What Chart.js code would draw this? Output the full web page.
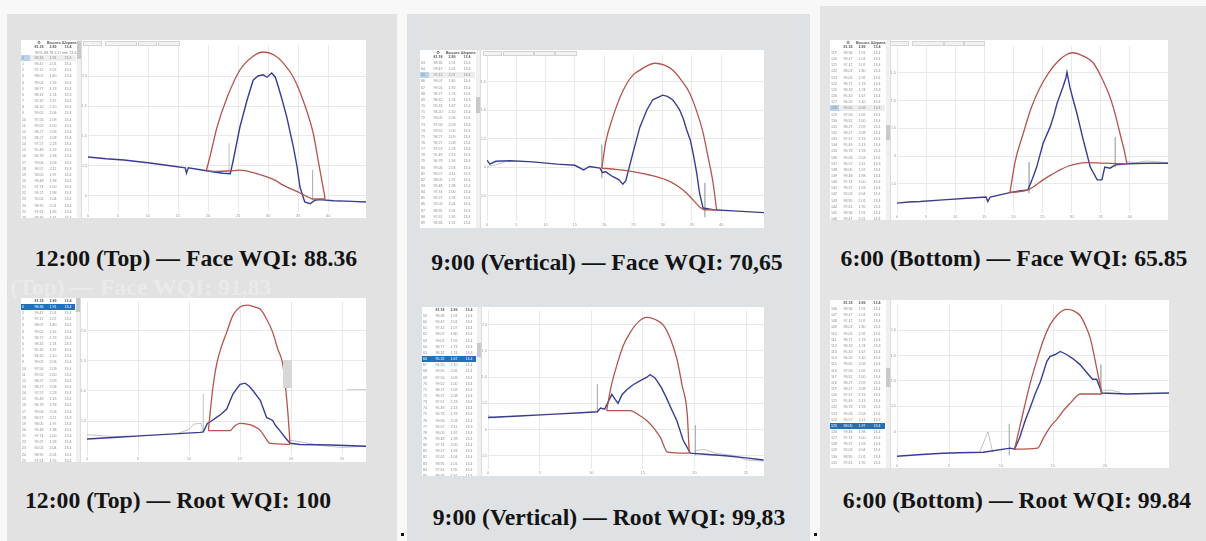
<!DOCTYPE html>
<html>
<head>
<meta charset="utf-8">
<script src="https://cdn.jsdelivr.net/npm/chart.js@4.4.1/dist/chart.umd.min.js"></script>
<style>
  body { margin: 0; width: 1206px; height: 541px; position: relative; overflow: hidden; background: #f8f8f8; font-family: "Liberation Sans", Arial, sans-serif; }
  .col { position: absolute; overflow: hidden; }
  .tbl { position: absolute; background: #fff; border-right: 1px solid #ddd; overflow: hidden; filter: blur(0.35px); }
  .tbl div { position: absolute; font-size: 3.6px; line-height: 4px; color: #8a8a8a; white-space: nowrap; }
  .cap { position: absolute; font: bold 23.7px "Liberation Serif", "Times New Roman", serif; line-height: 24px; color: #141414; white-space: nowrap; transform: translateX(-50%); }
  .tab { position: absolute; height: 3px; border: 1px solid #d4d4d4; background: #f2f2f2; }
  canvas { position: absolute; }
</style>
</head>
<body>
<script>
// ---- data (x in axis units, y in axis units) ----

// 12:00 (Top) - Face
const faceTopBlue = [[0,0.65],[3,0.62],[6,0.6],[10.3,0.55],[14,0.5],[16.2,0.47],[16.4,0.38],[16.7,0.47],[19.2,0.43],[21,0.4],[22.5,0.38],[23.7,0.37],[24.2,0.6],[25.3,1.15],[26.5,1.6],[27.5,1.93],[28.3,2.0],[29.2,2.02],[29.8,1.98],[30.6,2.05],[31.2,1.98],[31.7,1.82],[32.4,1.58],[33.1,1.32],[34.2,0.82],[34.8,0.5],[35.3,0.15],[36.1,-0.1],[37,-0.13],[37.8,-0.07],[38.5,-0.06],[40.9,-0.08],[44,-0.09],[46.3,-0.1]];
const faceTopRedUp = [[19.7,0.42],[20.3,0.65],[21.5,1.15],[23.2,1.65],[25.3,2.1],[27.5,2.33],[29.2,2.4],[31,2.35],[32.5,2.22],[34.2,1.98],[35.8,1.6],[37.5,1.05],[38.5,0.5],[39.5,-0.05]];
const faceTopRedLow = [[19.7,0.42],[21.5,0.41],[23.7,0.42],[25.3,0.43],[27.5,0.39],[29.8,0.32],[31.2,0.26],[32.5,0.18],[34,0.11],[35.3,0.05],[36.5,-0.01],[37.5,-0.05],[39.5,-0.05]];
const faceTopGray = [[23.5,0.37],[23.5,0.88],null,[37.4,0.43],[37.4,-0.07]];

// 12:00 (Top) - Root
const rootTopBlue = [[0,0.2],[3,0.23],[6,0.26],[9,0.29],[11.1,0.31],[11.4,0.32],[11.8,0.46],[12.2,0.5],[12.7,0.56],[13.2,0.62],[13.7,0.7],[14.3,0.95],[15,1.11],[15.5,1.13],[15.9,1.08],[16.3,1.0],[17,0.84],[17.3,0.7],[17.6,0.56],[18.2,0.51],[18.5,0.42],[18.9,0.34],[19.4,0.23],[19.9,0.13],[20.9,0.11],[24,0.1],[27.4,0.08]];
const rootTopRedUp = [[11.9,0.34],[12.3,1.0],[12.7,1.44],[13.2,1.75],[13.7,1.98],[14.3,2.26],[15,2.4],[15.7,2.43],[16.4,2.4],[17,2.36],[17.6,2.2],[18.2,1.98],[18.7,1.7],[19.2,1.44],[19.5,1.0],[19.7,0.62],[19.9,0.13]];
const rootTopRedLow = [[11.9,0.34],[14.0,0.34],[14.5,0.42],[15,0.46],[15.7,0.45],[16.3,0.42],[17,0.34],[17.5,0.22],[17.9,0.13],[19.9,0.11]];
const rootTopGray = [[0,0.27],[1,0.26],[2.5,0.24],[4,0.25],null,[9,0.3],[10,0.36],[10.5,0.45],[11.2,0.46],[11.4,0.32],null,[11.4,0.31],[11.4,0.95],null,[19.9,0.18],[21,0.15],[23,0.09],[25,0.06],[27.4,0.08]];

// 9:00 (Vertical) - Face
const faceVertBlue = [[0,0.12],[0.5,0.05],[1.5,0.1],[4,0.11],[7.8,0.09],[12,0.05],[15,0.03],[16.5,-0.05],[17.5,0.01],[19.3,-0.02],[19.7,-0.1],[20.2,-0.08],[21.5,-0.17],[22.5,-0.22],[23.2,-0.3],[23.7,-0.24],[24.9,0.24],[26.1,0.7],[27.3,1.0],[28.3,1.18],[29.2,1.22],[30,1.26],[30.8,1.24],[31.7,1.18],[32.4,1.08],[32.9,1.0],[33.5,0.85],[34.1,0.65],[34.7,0.48],[35.2,0.24],[35.8,-0.1],[36.3,-0.46],[36.9,-0.72],[38.6,-0.75],[42,-0.77],[47.3,-0.8]];
const faceVertRedUp = [[19.6,-0.02],[20.3,0.45],[21.5,0.88],[22.7,1.22],[23.9,1.47],[25,1.62],[26.1,1.7],[27.4,1.78],[28.7,1.82],[30.2,1.79],[31.7,1.7],[33.2,1.52],[34.6,1.3],[35.8,0.98],[36.9,0.6],[37.8,0.15],[38.6,-0.28],[39.2,-0.75]];
const faceVertRedLow = [[19.6,-0.02],[22,-0.04],[24.9,-0.08],[27.8,-0.14],[30.7,-0.23],[32.5,-0.33],[34.1,-0.46],[35.3,-0.59],[36.3,-0.7],[37.2,-0.75],[39.2,-0.75]];
const faceVertGray = [[0,-0.02],[0.5,0.04],[1,0.02],[2,0.06],[3,0.08],null,[19.6,0.39],[19.6,-0.19],null,[37.2,-0.28],[37.2,-0.88]];

// 9:00 (Vertical) - Root
const rootVertBlue = [[0,0.23],[3,0.26],[6,0.29],[9,0.32],[10.6,0.34],[10.9,0.41],[11.3,0.39],[11.7,0.55],[12,0.67],[12.3,0.58],[12.6,0.5],[13,0.67],[13.5,0.77],[14.1,0.86],[14.8,0.94],[15.4,1.0],[15.7,1.05],[16.2,0.98],[16.8,0.8],[17.3,0.6],[17.8,0.38],[18.3,0.17],[18.9,-0.2],[19.6,-0.45],[21,-0.47],[23,-0.5],[25,-0.54],[26.7,-0.58]];
const rootVertRedUp = [[11.5,0.36],[11.9,0.8],[12.5,1.24],[13.1,1.6],[13.8,1.86],[14.6,2.06],[15.4,2.14],[16.2,2.1],[17,1.99],[17.7,1.72],[18.3,1.35],[18.8,0.85],[19.3,0.3],[19.5,-0.45]];
const rootVertRedLow = [[11.5,0.36],[13.8,0.36],[14.6,0.28],[15.4,0.17],[16.1,0.02],[16.7,-0.15],[17.4,-0.43],[19.5,-0.45]];
const rootVertGray = [[0,0.27],[0.6,0.22],[1.5,0.25],null,[10.6,0.86],[10.6,0.32],null,[20.1,0.08],[20.1,-0.49],null,[20,-0.4],[21,-0.38],[22,-0.45],[24,-0.5],[25,-0.58],[26.7,-0.6]];

// 6:00 (Bottom) - Face
const faceBotBlue = [[0,-0.85],[2,-0.83],[4,-0.82],[7.9,-0.79],[12,-0.76],[15.3,-0.74],[15.6,-0.82],[16,-0.74],[19.4,-0.66],[21,-0.63],[22.5,-0.61],[23.3,-0.4],[24,-0.2],[25.1,0.23],[26.3,0.52],[27,0.75],[27.5,0.95],[28.5,1.24],[29,1.4],[29.2,1.51],[29.7,1.24],[30.3,1.0],[30.9,0.77],[32,0.29],[32.6,0.05],[33.2,-0.2],[34.4,-0.43],[35.2,-0.43],[35.7,-0.2],[36.6,-0.22],[37.5,-0.16],[39.5,-0.14],[43,-0.13],[46.6,-0.13]];
const faceBotRedUp = [[19.4,-0.66],[20.3,-0.1],[21.7,0.41],[23.1,0.88],[24.6,1.24],[26,1.49],[27.5,1.69],[29,1.82],[30.2,1.86],[32,1.8],[33.7,1.68],[35.2,1.4],[36.6,1.06],[37.5,0.75],[38.3,0.41],[39,0.12],[39.5,-0.14]];
const faceBotRedLow = [[19.4,-0.66],[22.5,-0.61],[23.8,-0.53],[25.1,-0.43],[26.5,-0.34],[28,-0.25],[29.5,-0.18],[30.9,-0.14],[32.6,-0.12],[35.4,-0.13],[39.5,-0.14]];
const faceBotGray = [[22.7,-0.11],[22.7,-0.67],null,[37.5,0.34],[37.5,-0.2],null,[39.5,-0.1],[41,-0.12],[43,-0.09],[46.6,-0.12]];

// 6:00 (Bottom) - Root
const rootBotBlue = [[0,-0.49],[2,-0.46],[4.4,-0.43],[6,-0.42],[8.3,-0.41],[10.9,-0.33],[11.3,-0.35],[11.8,-0.12],[12.3,0.2],[12.8,0.47],[13.3,0.75],[13.8,0.99],[14.4,1.38],[14.7,1.48],[15.2,1.52],[15.7,1.58],[16.3,1.52],[16.9,1.44],[17.6,1.32],[18.3,1.15],[18.8,1.03],[19.2,1.03],[19.7,0.76],[22.1,0.74],[24,0.75],[26.2,0.76]];
const rootBotRedUp = [[11.3,-0.35],[12.1,0.35],[12.8,0.95],[13.5,1.44],[14.1,1.82],[14.7,2.1],[15.5,2.32],[16.3,2.41],[17,2.38],[17.6,2.29],[18.1,2.1],[18.6,1.83],[19.2,1.25],[19.7,0.74]];
const rootBotRedLow = [[11.3,-0.35],[13.5,-0.33],[14.1,-0.12],[14.7,0.08],[15.4,0.25],[16,0.41],[16.7,0.57],[17.3,0.7],[17.6,0.74],[19.7,0.74]];
const rootBotGray = [[7.9,-0.42],[8.75,-0.01],[9.2,-0.41],null,[10.8,0.15],[10.8,-0.47],null,[19.6,1.32],[19.6,0.74],null,[19.7,0.8],[20.5,0.82],[21.5,0.77]];

// captions
const captions = [
  '12:00 (Top) \u2014 Face WQI: 88.36',
  '12:00 (Top) \u2014 Root WQI: 100',
  '9:00 (Vertical) \u2014 Face WQI: 70,65',
  '9:00 (Vertical) \u2014 Root WQI: 99,83',
  '6:00 (Bottom) \u2014 Face WQI: 65.85',
  '6:00 (Bottom) \u2014 Root WQI: 99.84'
];

// side table text (blurred in the source, approximate)
const tableHeads = [['\u0424', '\u0412\u044b\u0441\u043e\u0442\u0430', '\u0428\u0438\u0440\u0438\u043d\u0430'], ['81.18', '2.89', '13.4']];
const tableRows = [
  ['98.36','1.91','13.4'],['99.47','2.01','13.4'],['97.12','2.07','13.4'],['98.07','1.80','13.4'],
  ['99.01','1.92','13.4'],['98.77','1.73','13.4'],['98.32','1.74','13.3'],['95.32','1.67','13.4'],
  ['94.20','2.10','13.4'],['99.05','2.06','13.4'],['97.56','2.09','13.4'],['99.52','2.00','13.4'],
  ['98.27','2.09','13.4'],['98.27','2.08','13.4'],['97.57','2.23','13.4'],['95.49','2.13','13.4'],
  ['96.78','1.93','13.4'],['99.06','2.03','13.4'],['96.57','2.11','13.3'],['98.05','1.97','13.4'],
  ['99.48','1.98','13.4'],['97.74','2.00','13.4'],['99.27','1.93','13.4'],['92.02','2.04','13.4'],
  ['98.95','2.01','13.4'],['97.61','1.95','13.4']
];
const rowStarts = [0, 0, 63, 59, 119, 106];

// ---- layout ----
const cols = [
  { x: 7, y: 14, w: 390, bg: '#e2e2e2' },
  { x: 407, y: 14, w: 403, bg: '#dee2e5' },
  { x: 820, y: 6, w: 386, bg: '#e4e4e4' }
];
cols.forEach(c => {
  const d = document.createElement('div');
  d.className = 'col';
  Object.assign(d.style, { left: c.x + 'px', top: c.y + 'px', width: c.w + 'px', height: (541 - c.y) + 'px', background: c.bg });
  document.body.appendChild(d);
});

// each chart: table box, plot rect (page px), data ranges
const charts = [
  { blue: faceTopBlue, up: faceTopRedUp, low: faceTopRedLow, gray: faceTopGray,
    tbl: [21, 40], top: 40, bottom: 218, plot: [88, 45, 366, 212], x: [0, 46.3], y: [-0.267, 2.517], yShow: [0, 2],
    tabs: [[83, 17], [105, 30], [138, 17], [158, 20]], head: 3, hi: 0, dark: false, thumb: [41, 18],
    cap: [196, 246] },
  { blue: rootTopBlue, up: rootTopRedUp, low: rootTopRedLow, gray: rootTopGray,
    tbl: [21, 298], top: 298, bottom: 462, plot: [87, 299, 366, 455], x: [0, 27.35], y: [-0.066, 2.492], yShow: [0, 2.5],
    tabs: [], head: 1, hi: 0, dark: true, thumb: [298, 14],
    cap: [178, 488] },
  { blue: faceVertBlue, up: faceVertRedUp, low: faceVertRedLow, gray: faceVertGray,
    tbl: [420, 50], top: 50, bottom: 228, plot: [487, 55, 764, 221], x: [0, 47.3], y: [-0.947, 1.965], yShow: [-0.5, 1.5],
    tabs: [[483, 17], [503, 29], [534, 19], [555, 20]], head: 2, hi: 2, dark: false, thumb: [97, 16],
    cap: [607, 250] },
  { blue: rootVertBlue, up: rootVertRedUp, low: rootVertRedLow, gray: rootVertGray,
    tbl: [422, 307], top: 307, bottom: 476, plot: [488, 308, 764, 469], x: [0, 26.74], y: [-0.752, 2.274], yShow: [-0.5, 2],
    tabs: [], head: 1, hi: 7, dark: true, thumb: [343, 14],
    cap: [609, 505] },
  { blue: faceBotBlue, up: faceBotRedUp, low: faceBotRedLow, gray: faceBotGray,
    tbl: [830, 40], top: 40, bottom: 220, plot: [897, 46, 1168, 213], x: [0, 46.56], y: [-1.027, 1.982], yShow: [-0.5, 1.5],
    tabs: [[890, 17], [912, 30], [944, 18], [964, 19]], head: 2, hi: 9, dark: false, thumb: [125, 15],
    cap: [1014, 246] },
  { blue: rootBotBlue, up: rootBotRedUp, low: rootBotRedLow, gray: rootBotGray,
    tbl: [830, 300], top: 300, bottom: 468, plot: [897, 301, 1169, 462], x: [0, 26.15], y: [-0.603, 2.529], yShow: [0, 2.5],
    tabs: [], head: 1, hi: 19, dark: true, thumb: [368, 19],
    cap: [1017, 488] }
];

function el(cls, style, parent) {
  const d = document.createElement('div');
  if (cls) d.className = cls;
  Object.assign(d.style, style);
  (parent || document.body).appendChild(d);
  return d;
}

function pts(arr) {
  const out = [];
  arr.forEach((p, i) => {
    if (p === null) out.push({ x: arr[i - 1][0], y: null });
    else out.push({ x: p[0], y: p[1] });
  });
  return out;
}

function onStep(v, step) {
  return Math.abs(v / step - Math.round(v / step)) < 1e-6;
}

// faint ghost of an older caption behind column 1 (drawn first so it stays underneath)
el('cap', { left: '-51px', top: '275px', color: 'rgba(255,255,255,0.3)', transform: 'none', clipPath: 'inset(5px 0 0 0)' }).textContent = '12:00 (Top) \u2014 Face WQI: 91.83';

charts.forEach((c, k) => {
  const yW = 6;
  const cl = c.plot[0] - yW;
  const tblX = c.tbl[0], tblY = c.tbl[1];
  const tblW = cl - tblX;
  const h = c.bottom - c.top;

  // side table
  const t = el('tbl', { left: tblX + 'px', top: tblY + 'px', width: (tblW - 1) + 'px', height: h + 'px' });
  const colX = [16, 30, 45];
  let yy = 1;
  if (c.head >= 2) {
    tableHeads.forEach(row => {
      row.forEach((s, j) => el('', { left: (colX[j] - 4) + 'px', top: yy + 'px', width: '12px', textAlign: 'center', fontWeight: 'bold', color: '#555' }, t).textContent = s);
      yy += 4;
    });
    if (c.head === 3) {
      yy += 2;
      el('', { left: '14px', top: yy + 'px', color: '#888' }, t).textContent = 'SK%-88.78  1.17 mm   13.4-13k';
      yy += 5;
    } else yy += 2;
  } else {
    tableHeads[1].forEach((s, j) => el('', { left: (colX[j] - 4) + 'px', top: yy + 'px', width: '12px', textAlign: 'center', fontWeight: 'bold', color: '#555' }, t).textContent = s);
    yy += 6;
  }
  const rowH = 6.15;
  for (let r = 0; yy + r * rowH < h - 2; r++) {
    const ry = yy + r * rowH;
    const vals = tableRows[r % tableRows.length];
    if (r === c.hi) {
      if (c.dark) el('', { left: '0px', top: (ry - 1) + 'px', width: (tblW - 6) + 'px', height: '6px', background: '#2470b6' }, t);
      else {
        el('', { left: '0px', top: (ry - 1) + 'px', width: (tblW - 6) + 'px', height: '6px', background: '#ededed' }, t);
        el('', { left: '0px', top: (ry - 1) + 'px', width: '9px', height: '6px', background: '#b9d3ec' }, t);
      }
    }
    const col = (r === c.hi && c.dark) ? '#fff' : '#8a8a8a';
    el('', { left: '1px', top: ry + 'px', color: col }, t).textContent = String(rowStarts[k] + r);
    vals.forEach((s, j) => el('', { left: (colX[j] - 4) + 'px', top: ry + 'px', width: '12px', textAlign: 'center', color: col }, t).textContent = s);
  }
  // scrollbar
  el('', { left: (tblW - 5) + 'px', top: '0px', width: '4px', height: h + 'px', background: '#f0f0f0' }, t);
  el('', { left: (tblW - 5) + 'px', top: (c.thumb[0] - tblY) + 'px', width: '4px', height: c.thumb[1] + 'px', background: '#c9c9c9' }, t);

  // chart canvas
  const cw = c.plot[2] - cl;
  const cv = document.createElement('canvas');
  cv.width = cw; cv.height = h;
  Object.assign(cv.style, { left: cl + 'px', top: c.top + 'px', width: cw + 'px', height: h + 'px', background: '#fff' });
  document.body.appendChild(cv);

  const padTop = c.plot[1] - c.top;
  const xH = c.bottom - c.plot[3];
  const tickFont = { size: 4, family: 'Liberation Sans' };

  new Chart(cv.getContext('2d'), {
    type: 'line',
    data: {
      datasets: [
        { data: pts(c.up), borderColor: '#b4544c', borderWidth: 1.3, cubicInterpolationMode: 'monotone', order: 0 },
        { data: pts(c.low), borderColor: '#b4544c', borderWidth: 1.3, cubicInterpolationMode: 'monotone', order: 0 },
        { data: pts(c.blue), borderColor: '#383d92', borderWidth: 1.4, tension: 0, order: 1 },
        { data: pts(c.gray), borderColor: '#b3b3b3', borderWidth: 0.8, tension: 0, order: 2 }
      ]
    },
    options: {
      responsive: false,
      animation: false,
      events: [],
      layout: { padding: { top: padTop, left: 0, right: 0, bottom: 0 } },
      plugins: { legend: { display: false }, tooltip: { enabled: false } },
      elements: { point: { radius: 0 } },
      scales: {
        x: {
          type: 'linear', min: c.x[0], max: c.x[1],
          ticks: { stepSize: 5, font: tickFont, color: '#9a9a9a', padding: 1, maxRotation: 0, autoSkip: false },
          grid: { color: '#e9e9e9', drawTicks: false },
          border: { display: false },
          afterBuildTicks: a => { a.ticks = a.ticks.filter(tk => onStep(tk.value, 5)); },
          afterFit: s => { s.height = xH; }
        },
        y: {
          type: 'linear', min: c.y[0], max: c.y[1],
          ticks: { stepSize: 0.5, font: tickFont, color: '#9a9a9a', padding: 1 },
          grid: { color: '#e9e9e9', drawTicks: false },
          border: { display: false },
          afterBuildTicks: a => { a.ticks = a.ticks.filter(tk => onStep(tk.value, 0.5) && tk.value >= c.yShow[0] - 1e-6 && tk.value <= c.yShow[1] + 1e-6); },
          afterFit: s => { s.width = yW; }
        }
      }
    }
  });

  // toolbar tabs above the plot
  c.tabs.forEach(tb => el('tab', { left: tb[0] + 'px', top: (c.top + 1) + 'px', width: tb[1] + 'px' }));

  // caption
  el('cap', { left: c.cap[0] + 'px', top: c.cap[1] + 'px' }).textContent = captions[k];
});

// light grey slider box inside the 12:00 root chart
el('', { position: 'absolute', left: '283px', top: '360px', width: '9px', height: '28px', background: '#d7d7d7' });
el('', { position: 'absolute', left: '347px', top: '389px', width: '19px', height: '1px', background: '#d0d0d0' });

// two small black dots near the bottom
el('', { position: 'absolute', left: '401px', top: '533px', width: '3px', height: '3px', background: '#111' });
el('', { position: 'absolute', left: '814px', top: '533px', width: '3px', height: '3px', background: '#111' });
</script>
</body>
</html>
